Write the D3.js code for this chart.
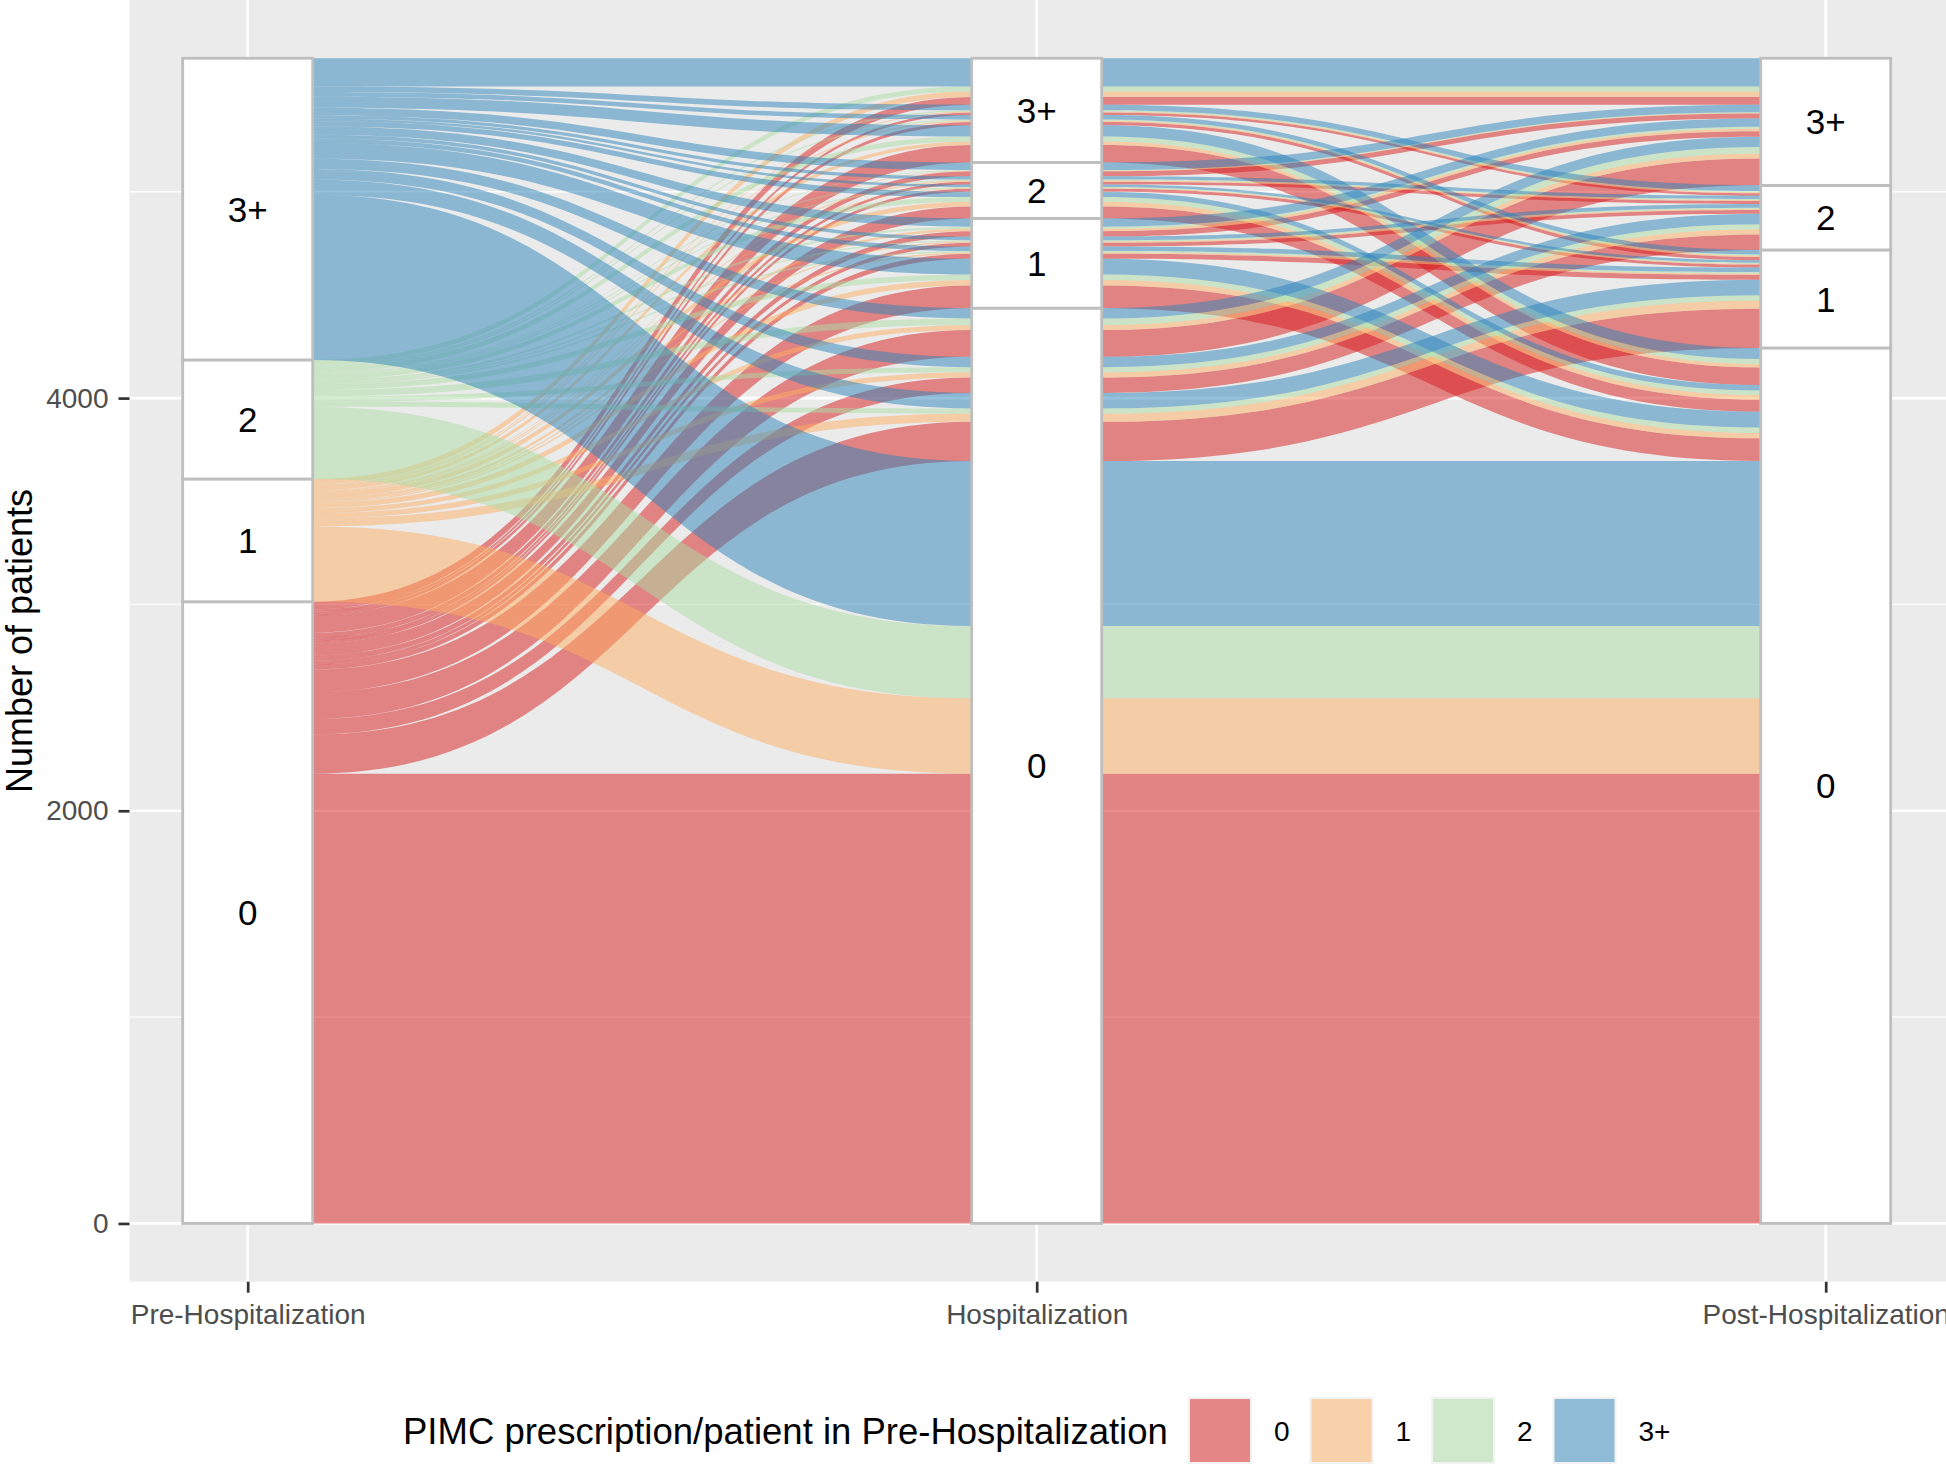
<!DOCTYPE html>
<html><head><meta charset="utf-8">
<script src="https://cdn.jsdelivr.net/npm/d3@7"></script>
<style>
body{margin:0;background:#fff}
svg{display:block}
text{font-family:"Liberation Sans",Arial,Helvetica,sans-serif}
</style>
</head><body>
<svg id="chart" width="1946" height="1468"></svg>
<script>
// ---------------- data ----------------
const axes = ["Pre-Hospitalization", "Hospitalization", "Post-Hospitalization"];
const levels = ["0", "1", "2", "3+"];
const palette = ["#D7191C", "#FDAE61", "#ABDDA4", "#2B83BA"];
// patients per path: rows = Hospitalization level, columns = Post-Hospitalization level
const fromPre0 = [[2180, 190, 75, 130], [110, 24, 18, 26], [58, 14, 14, 24], [85, 16, 12, 37]];
const fromPre1 = [[365, 40, 25, 24], [26, 7, 6, 12], [23, 4, 5, 3], [17, 6, 5, 27]];
const fromPre2 = [[350, 25, 25, 32], [27, 7, 6, 10], [22, 5, 5, 3], [24, 6, 6, 24]];
const fromPre3 = [[800, 75, 50, 50], [76, 22, 18, 40], [26, 12, 16, 37], [54, 22, 27, 137]];
const yTicks = [0, 2000, 4000];
const yMinorTicks = [1000, 3000, 5000];
const yTitle = "Number of patients";
const legendTitle = "PIMC prescription/patient in Pre-Hospitalization";

// ---------------- build alluvia ----------------
const byPre = [fromPre0, fromPre1, fromPre2, fromPre3];
const alluvia = [];
byPre.forEach((tab, p) => tab.forEach((row, h) => row.forEach((n, q) => {
  if (n > 0) alluvia.push({path: [p, h, q], n, lodes: []});
})));
const total = d3.sum(alluvia, d => d.n);

// lode ordering within a stratum (zigzag guidance)
const orderKeys = [[1, 2], [2, 0], [1, 0]];
const strata = [];
for (let a = 0; a < 3; a++) {
  let base = 0;
  for (let s = 0; s < levels.length; s++) {
    const members = alluvia.filter(d => d.path[a] === s);
    members.sort((u, v) => {
      for (const k of orderKeys[a]) { if (u.path[k] !== v.path[k]) return u.path[k] - v.path[k]; }
      return 0;
    });
    const start = base;
    members.forEach(d => { d.lodes[a] = {y0: base, y1: base + d.n}; base += d.n; });
    strata.push({axis: a, level: s, y0: start, y1: base});
  }
}

// ---------------- layout ----------------
const svg = d3.select("#chart");
const panel = {left: 129.5, right: 1946, top: 0, bottom: 1281.7};
const x = d3.scalePoint().domain(axes).range([247.7, 1825.7]).padding(0);
const y = d3.scaleLinear().domain([-0.05 * total, 1.05 * total]).range([panel.bottom, panel.top]);
const half = 65;

// panel background
svg.append("rect").attr("x", panel.left).attr("y", panel.top)
  .attr("width", panel.right - panel.left).attr("height", panel.bottom - panel.top)
  .attr("fill", "#EBEBEB");

// grid
const grid = svg.append("g");
grid.selectAll("line.minor").data(yMinorTicks).join("line")
  .attr("x1", panel.left).attr("x2", panel.right)
  .attr("y1", d => y(d)).attr("y2", d => y(d))
  .attr("stroke", "#fff").attr("stroke-width", 1.35);
grid.selectAll("line.major").data(yTicks).join("line")
  .attr("x1", panel.left).attr("x2", panel.right)
  .attr("y1", d => y(d)).attr("y2", d => y(d))
  .attr("stroke", "#fff").attr("stroke-width", 2.7);
grid.selectAll("line.vx").data(axes).join("line")
  .attr("x1", d => x(d)).attr("x2", d => x(d))
  .attr("y1", panel.top).attr("y2", panel.bottom)
  .attr("stroke", "#fff").attr("stroke-width", 2.7);

// ribbons
function ribbonPath(d) {
  const xs = axes.map(a => x(a));
  let s = "";
  for (let i = 0; i < 3; i++) {
    const yt = y(d.lodes[i].y1), xl = xs[i] - half, xr = xs[i] + half;
    if (i === 0) s += `M${xl},${yt}L${xr},${yt}`;
    else {
      const px = xs[i - 1] + half, py = y(d.lodes[i - 1].y1), mx = (px + xl) / 2;
      s += `C${mx},${py} ${mx},${yt} ${xl},${yt}L${xr},${yt}`;
    }
  }
  for (let i = 2; i >= 0; i--) {
    const yb = y(d.lodes[i].y0), xl = xs[i] - half, xr = xs[i] + half;
    if (i === 2) s += `L${xr},${yb}L${xl},${yb}`;
    else {
      const px = xs[i + 1] - half, py = y(d.lodes[i + 1].y0), mx = (px + xr) / 2;
      s += `C${mx},${py} ${mx},${yb} ${xr},${yb}L${xl},${yb}`;
    }
  }
  return s + "Z";
}
svg.append("g").selectAll("path").data(alluvia).join("path")
  .attr("d", ribbonPath)
  .attr("fill", d => palette[d.path[0]])
  .attr("fill-opacity", 0.5);

// strata boxes
const sg = svg.append("g");
sg.selectAll("rect").data(strata).join("rect")
  .attr("x", d => x(axes[d.axis]) - half)
  .attr("y", d => y(d.y1))
  .attr("width", half * 2)
  .attr("height", d => y(d.y0) - y(d.y1))
  .attr("fill", "#fff").attr("stroke", "#BEBEBE").attr("stroke-width", 2.8);
sg.selectAll("text").data(strata).join("text")
  .attr("x", d => x(axes[d.axis]))
  .attr("y", d => y((d.y0 + d.y1) / 2))
  .attr("dy", "0.36em")
  .attr("text-anchor", "middle")
  .attr("font-size", 35).attr("fill", "#000")
  .text(d => levels[d.level]);

// axes
const yAxis = svg.append("g").attr("transform", `translate(${panel.left},0)`)
  .call(d3.axisLeft(y).tickValues(yTicks).tickSize(11).tickPadding(10).tickFormat(d3.format("d")));
const xAxis = svg.append("g").attr("transform", `translate(0,${panel.bottom})`)
  .call(d3.axisBottom(x).tickSize(11).tickPadding(11));
[yAxis, xAxis].forEach(g => {
  g.select(".domain").remove();
  g.selectAll(".tick line").attr("stroke", "#333333").attr("stroke-width", 2.7);
  g.selectAll(".tick text").attr("fill", "#4D4D4D").attr("font-size", 28)
    .attr("font-family", "'Liberation Sans', Arial, sans-serif");
});

// y title
svg.append("text")
  .attr("transform", `translate(32,641) rotate(-90)`)
  .attr("text-anchor", "middle").attr("font-size", 36).attr("fill", "#000")
  .text(yTitle);

// legend
const lg = svg.append("g");
lg.append("text").attr("x", 403).attr("y", 1444).attr("font-size", 36.5).attr("fill", "#000")
  .text(legendTitle);
const keyX = d3.scalePoint().domain(levels).range([1188, 1552.5]);
const keys = lg.selectAll("g.key").data(levels).join("g").attr("class", "key")
  .attr("transform", d => `translate(${keyX(d)},1397)`);
keys.append("rect").attr("width", 64).attr("height", 67).attr("fill", "#F2F2F2");
keys.append("rect").attr("x", 2).attr("y", 2).attr("width", 60).attr("height", 63)
  .attr("fill", (d, i) => palette[i]).attr("fill-opacity", 0.5);
keys.append("text").attr("x", 86).attr("y", 1441 - 1397).attr("font-size", 28).attr("fill", "#000")
  .text(d => d);
</script>
</body></html>
